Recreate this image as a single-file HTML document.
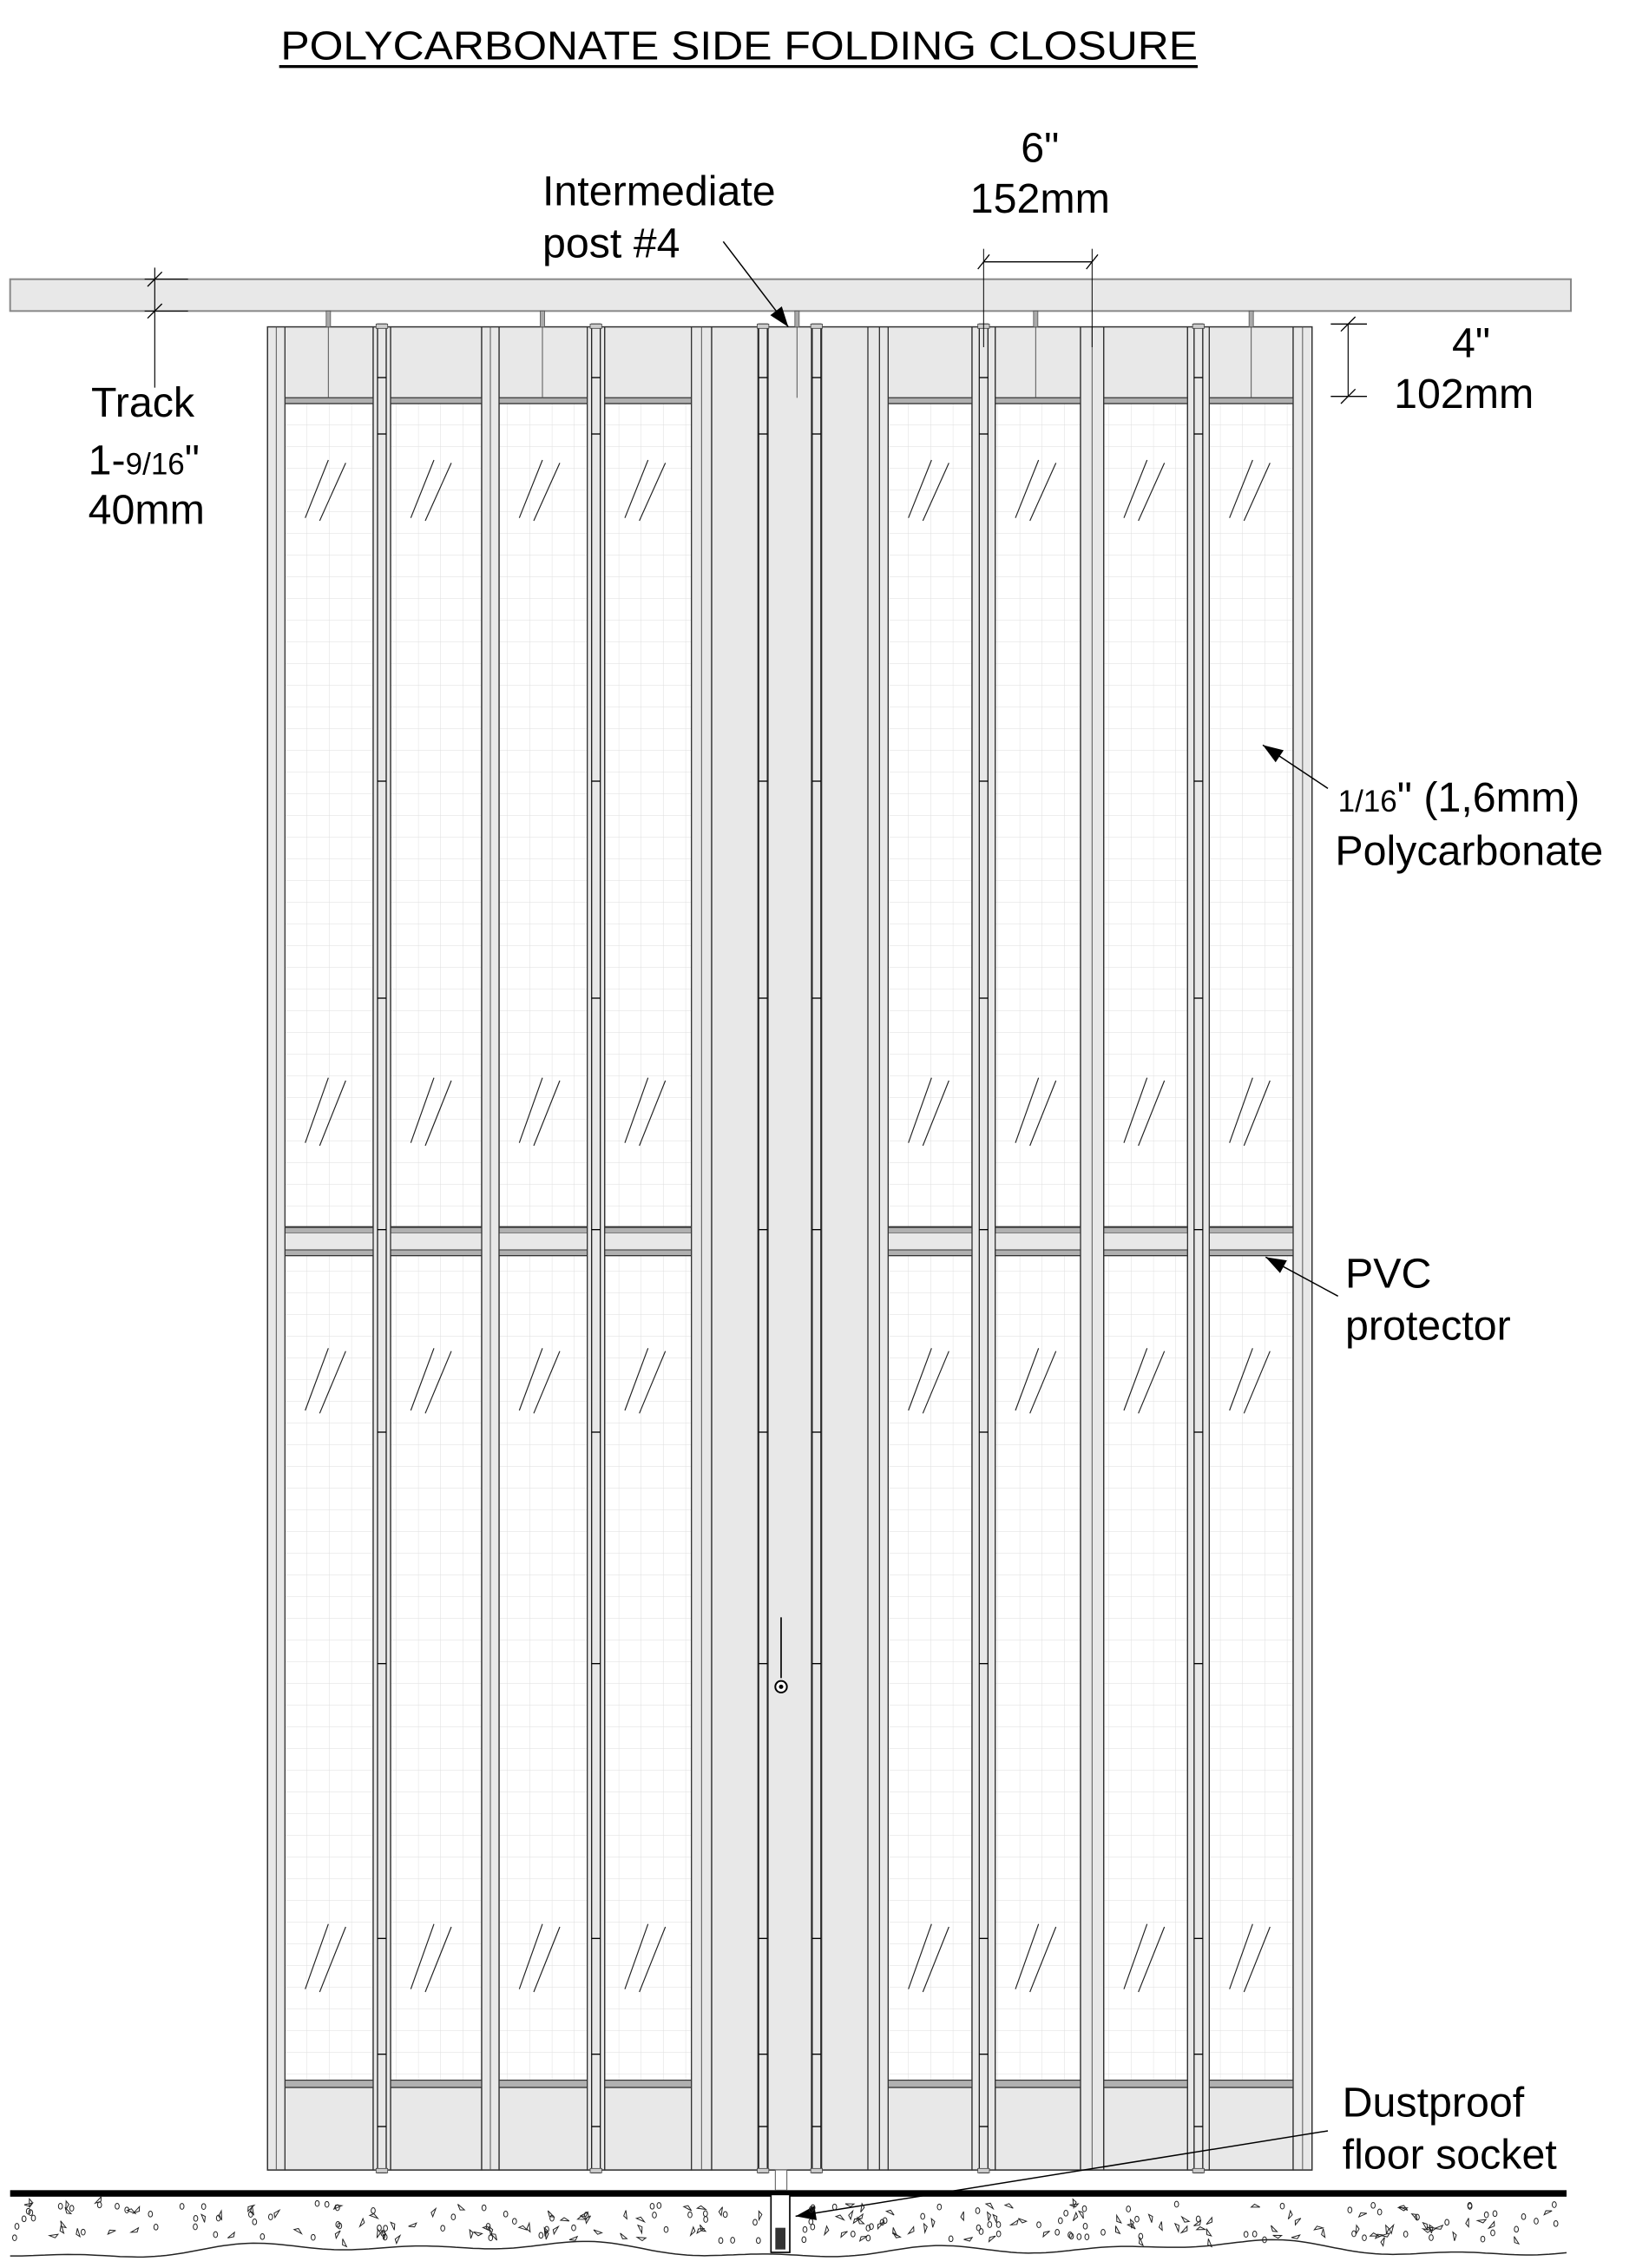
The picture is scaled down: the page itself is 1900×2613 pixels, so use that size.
<!DOCTYPE html>
<html><head><meta charset="utf-8"><style>
html,body{margin:0;padding:0;background:#fff;}
svg{display:block;}
text{font-family:"Liberation Sans",Arial,sans-serif;fill:#000;}
</style></head><body>
<svg id="s" width="1900" height="2613" viewBox="0 0 1140 1567.8" preserveAspectRatio="none" xmlns="http://www.w3.org/2000/svg">
<defs>
<pattern id="grid" width="15.4" height="15" patternUnits="userSpaceOnUse" x="197" y="279">
<rect width="15.4" height="15" fill="#fff"/>
<path d="M15.4 0V15M0 15H15.4" stroke="#dedede" stroke-width="0.6" fill="none"/>
</pattern>
</defs>
<text x="194" y="41" font-size="28" textLength="634" lengthAdjust="spacingAndGlyphs">POLYCARBONATE SIDE FOLDING CLOSURE</text>
<rect x="193" y="45" width="635" height="2" fill="#000"/>
<rect x="7" y="193" width="1079" height="22" fill="#e8e8e8" stroke="#888" stroke-width="1.2"/>
<g id="g"></g>
<g font-size="29">
<text x="375" y="142">Intermediate</text>
<text x="375" y="178">post #4</text>
<text x="719" y="112" text-anchor="middle">6"</text>
<text x="719" y="147" text-anchor="middle">152mm</text>
<text x="1017" y="247" text-anchor="middle">4"</text>
<text x="1012" y="282" text-anchor="middle">102mm</text>
<text x="63" y="288">Track</text>
<text x="61" y="328">1-<tspan font-size="21">9/16</tspan>"</text>
<text x="61" y="362">40mm</text>
<text x="925" y="561"><tspan font-size="21">1/16</tspan>" (1,6mm)</text>
<text x="923" y="598">Polycarbonate</text>
<text x="930" y="890">PVC</text>
<text x="930" y="926">protector</text>
<text x="928" y="1463">Dustproof</text>
<text x="928" y="1499">floor socket</text>
</g>
</svg>
<script>
var g=document.getElementById('g'),h='';
function R(x,y,w,hh,f,s,sw){h+='<rect x="'+x+'" y="'+y+'" width="'+w+'" height="'+hh+'" fill="'+f+'" stroke="'+(s||'none')+'" stroke-width="'+(sw||0.8)+'"/>';}
function L(a,b,c,d,s,w){h+='<line x1="'+a+'" y1="'+b+'" x2="'+c+'" y2="'+d+'" stroke="'+(s||'#000')+'" stroke-width="'+(w||0.8)+'"/>';}
function A(x1,y1,x2,y2){L(x1,y1,x2,y2,'#000',0.9);var dx=x2-x1,dy=y2-y1,l=Math.hypot(dx,dy),ux=dx/l,uy=dy/l,px=-uy,py=ux,al=14,aw=5;
h+='<polygon points="'+x2+','+y2+' '+(x2-ux*al+px*aw)+','+(y2-uy*al+py*aw)+' '+(x2-ux*al-px*aw)+','+(y2-uy*al-py*aw)+'" fill="#000"/>';}
var T=226,B=1500;
R(185,T,722,B-T,'#e8e8e8','#333',1);
var leaves=[[197,258],[270,333],[345,406],[418,478],[614,672],[688,747],[763,821],[836,894]];
leaves.forEach(function(p){var x=p[0],w=p[1]-p[0];
R(x,T,w,49,'#e8e8e8','#333');
R(x,275,w,4,'#b0b0b0','#333',0.6);
R(x,279,w,569,'url(#grid)','#333');
R(x,848.5,w,4,'#b0b0b0','#333',0.6);
R(x,852.5,w,11.5,'#e8e8e8');
R(x,864,w,4,'#b0b0b0','#333',0.6);
R(x,868,w,570,'url(#grid)','#333');
R(x,1438,w,5,'#b0b0b0','#333',0.6);
R(x,1443,w,57,'#e8e8e8','#333');
[[318,358],[745,790],[932,975],[1330,1375]].forEach(function(q){
 L(x+14,q[1],x+30,q[0],'#222',0.7);L(x+24,q[1]+2,x+42,q[0]+2,'#222',0.7);});
});
[[185,197],[333,345],[478,492],[747,763],[894,907]].forEach(function(p){R(p[0],T,p[1]-p[0],B-T,'#e8e8e8','#333');L((p[0]+p[1])/2,T,(p[0]+p[1])/2,B,'#555',0.6);});
R(492,T,122,B-T,'#e8e8e8','#333');
L(600,T,600,B,'#333');L(608,T,608,B,'#333');
function hinge(x1,x2){R(x1,T,x2-x1,B-T,'#e8e8e8','#333');var c=(x1+x2)/2;R(c-3,T-2,6,B-T+4,'#e8e8e8','#222');
R(c-4,T-2,8,3,'#ccc','#444',0.5);R(c-4,B-1,8,3,'#ccc','#444',0.5);
[261,300,540,690,850,990,1150,1340,1420,1470].forEach(function(y){L(c-3,y,c+3,y,'#000',0.8);});}
[[258,270],[406,418],[672,688],[821,836],[524,531],[561,568]].forEach(function(p){hinge(p[0],p[1]);});
[227,375,551,716,865].forEach(function(x){R(x-1.5,215,3,11,'#aaa','#555',0.5);L(x,T,x,275,'#555',0.6);});
L(540,1118,540,1160,'#000',1);h+='<circle cx="540" cy="1166" r="4" fill="#fff" stroke="#000" stroke-width="1.2"/><circle cx="540" cy="1166" r="1.5" fill="#000"/>';
L(107,185,107,268,'#000',0.7);L(102,198,112,188);L(102,220,112,210);L(100,193,130,193,'#000',0.6);L(100,215,130,215,'#000',0.6);
L(680,172,680,240,'#000',0.6);L(755,172,755,240,'#000',0.6);L(680,181,755,181,'#000',0.8);L(676,186,684,176);L(751,186,759,176);
L(932,224,932,274,'#000',0.7);L(920,224,945,224,'#000',0.8);L(920,274,945,274,'#000',0.8);L(927,229,937,219);L(927,279,937,269);
A(500,167,545,226);A(918,545,873,515);A(925,896,875,869);A(918,1473,550,1532);
R(7,1514,1076,4.5,'#000');
R(536,1500,8,14,'#fff','#555',0.6);R(533,1517,13,40,'#fff','#000',1);R(536,1540,7,15,'#333');
var pts=[];for(var x=7;x<=1083;x+=4){var y=1555+2.5*Math.sin(x/37)+3*Math.sin(x/83+1)+2*Math.sin(x/19+2);pts.push(x+','+y.toFixed(1));}
h+='<polyline points="'+pts.join(' ')+'" fill="none" stroke="#222" stroke-width="0.9"/>';
var seed=7;function rnd(){seed=(seed*16807)%2147483647;return seed/2147483647;}
for(var i=0;i<260;i++){var x=10+rnd()*1070,y=1523+rnd()*26;if(x>528&&x<552)continue;
 if(rnd()<0.45){h+='<ellipse cx="'+x.toFixed(1)+'" cy="'+y.toFixed(1)+'" rx="1.4" ry="2" fill="none" stroke="#222" stroke-width="0.6"/>';}
 else{var a=rnd()*6.28,s=6;h+='<polygon points="'+x.toFixed(1)+','+y.toFixed(1)+' '+(x+s*Math.cos(a)).toFixed(1)+','+(y+s*Math.sin(a)).toFixed(1)+' '+(x+s*Math.cos(a+0.5)*0.7).toFixed(1)+','+(y+s*Math.sin(a+0.5)*0.7).toFixed(1)+'" fill="none" stroke="#222" stroke-width="0.6"/>';}}
g.innerHTML=h;
</script>
</body></html>
